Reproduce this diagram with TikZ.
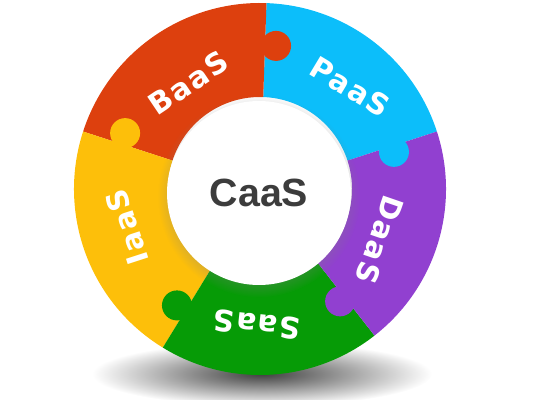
\documentclass[tikz,border=0pt]{standalone}
\usepackage{fontspec}
\setmainfont{Liberation Sans}
\newfontfamily\ringfont[LetterSpace=6]{DejaVu Sans}
\usetikzlibrary{shadows}

\definecolor{baasred}{RGB}{221,64,14}
\definecolor{paasblue}{RGB}{12,190,250}
\definecolor{daaspurple}{RGB}{145,64,208}
\definecolor{saasgreen}{RGB}{6,155,6}
\definecolor{iaasyellow}{RGB}{253,191,10}
\definecolor{hubtext}{RGB}{60,60,60}

\newcommand{\ringpart}[3]{\fill[#1] (#2:186) arc (#2:#3:186) -- (#3:92) arc (#3:#2:92) -- cycle;}

\begin{document}
\begin{tikzpicture}[x=0.05cm,y=0.05cm,every node/.style={inner sep=0pt}]

\tikzstyle{ringlabel}=[text=white, font=\ringfont\bfseries\fontsize{42}{42}\selectfont]
\tikzstyle{hub}=[circle, fill=white, minimum size=9.2cm, text=hubtext,
                 font=\bfseries\fontsize{56}{56}\selectfont,
                 circular drop shadow={shadow xshift=0pt, shadow yshift=-4pt, opacity=0.3}]

\useasboundingbox (0,0) rectangle (550,400);
\shade[inner color=black!75, outer color=white] (262,26) ellipse (170 and 32);

\begin{scope}[shift={(260,211)}]
\ringpart{paasblue}{18}{88}
\ringpart{baasred}{88}{162}
\ringpart{iaasyellow}{162}{238.5}
\ringpart{saasgreen}{238.5}{308}
\ringpart{daaspurple}{-52}{18}
\fill[baasred] (83.6:144) circle (15);
\fill[paasblue] (15.5:139) circle (15);
\fill[daaspurple] (-54.5:138) circle (15);
\fill[saasgreen] (234.5:143) circle (15);
\fill[iaasyellow] (157.5:146) circle (15);
\end{scope}

\node[hub] (caas) at (259,207) {CaaS};

\node[ringlabel, rotate=34] (baas) at (188,317) {BaaS};
\node[ringlabel, rotate=-31] (paas) at (350,313) {PaaS};
\node[ringlabel, rotate=-109] (daas) at (380,160) {DaaS};
\node[ringlabel, rotate=174] (saas) at (257,75) {SaaS};
\node[ringlabel, rotate=108] (iaas) at (127,173) {IaaS};
\end{tikzpicture}
\end{document}
